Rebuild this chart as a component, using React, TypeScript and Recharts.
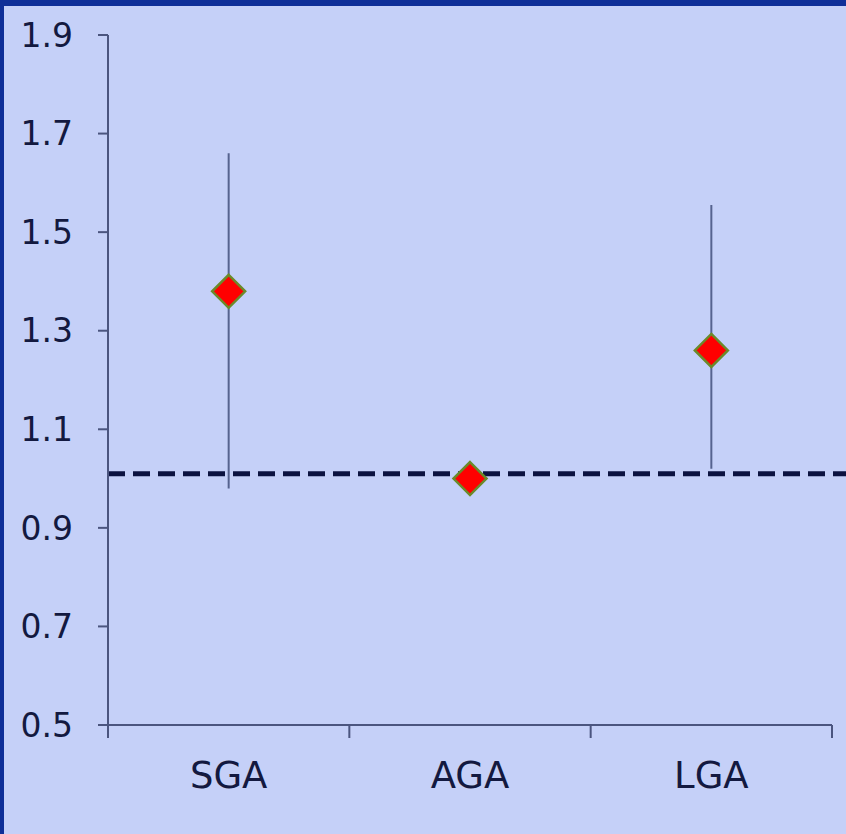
import { ComposedChart, Line, ErrorBar, XAxis, YAxis, ReferenceLine } from 'recharts'

const categories = ['SGA', 'AGA', 'LGA']
const oddsRatios = [1.38, 1.0, 1.26]
const lowerCI = [0.98, 1.0, 1.02]
const upperCI = [1.66, 1.0, 1.555]
const yTicks = [0.5, 0.7, 0.9, 1.1, 1.3, 1.5, 1.7, 1.9]
const referenceValue = 1.01

const data = categories.map((name, i) => ({
  name,
  or: oddsRatios[i],
  ci: [oddsRatios[i] - lowerCI[i], upperCI[i] - oddsRatios[i]],
}))

const textColor = '#131940'
const axisColor = '#4b557f'
const rightMargin = 14

const Diamond = (props: any) => {
  const { cx, cy, index } = props
  if (cx == null || cy == null) return null
  const r = 16.5
  return (
    <polygon
      key={index}
      points={`${cx},${cy - r} ${cx + r},${cy} ${cx},${cy + r} ${cx - r},${cy}`}
      fill="#ff0000"
      stroke="#6b8a2a"
      strokeWidth={2.5}
    />
  )
}

// label in the middle of the band, tick marks on the band edges
const CategoryTick = (props: any) => {
  const { x, y, payload, index } = props
  const half = payload.offset ?? 0
  const axisY = y - 37
  const mark = (px: number) => (
    <line x1={px} x2={px} y1={axisY} y2={axisY + 13} stroke={axisColor} strokeWidth={2} />
  )
  return (
    <g>
      {mark(x - half)}
      {index === categories.length - 1 && mark(x + half)}
      <text
        x={x}
        y={y}
        dy="0.71em"
        textAnchor="middle"
        fill={textColor}
        fontSize={37}
        fontFamily="DejaVu Sans"
      >
        {payload.value}
      </text>
    </g>
  )
}

// the dashed line runs on past the plot, to the edge of the slide
const DashedRef = (props: any) => {
  const { x1, x2, y1, y2 } = props
  return (
    <line
      x1={x1}
      x2={x2 + rightMargin}
      y1={y1}
      y2={y2}
      stroke="#0b1240"
      strokeWidth={5}
      strokeDasharray="17 8"
    />
  )
}

export default function App() {
  return (
    <div
      style={{
        position: 'absolute',
        left: 0,
        top: 0,
        width: 846,
        height: 834,
        background: '#c5d0f8',
        borderTop: '6px solid #0f2f98',
        borderLeft: '4px solid #0f2f98',
        boxSizing: 'border-box',
      }}
    >
      <div style={{ position: 'absolute', left: -4, top: -6 }}>
        <ComposedChart
          width={846}
          height={834}
          data={data}
          margin={{ top: 35, right: rightMargin, bottom: 49, left: 0 }}
        >
          <XAxis
            dataKey="name"
            type="category"
            scale="band"
            height={60}
            tickLine={false}
            tickSize={13}
            tickMargin={24}
            stroke={axisColor}
            strokeWidth={2}
            interval={0}
            tick={<CategoryTick />}
          />
          <YAxis
            type="number"
            domain={[0.5, 1.9]}
            ticks={yTicks}
            width={108}
            tickSize={10}
            tickMargin={25}
            stroke={axisColor}
            strokeWidth={2}
            tickFormatter={(v: number) => v.toFixed(1)}
            tick={{ fill: textColor, fontSize: 33, fontFamily: 'DejaVu Sans' }}
          />
          <ReferenceLine y={referenceValue} ifOverflow="visible" shape={<DashedRef />} />
          <Line
            dataKey="or"
            stroke="none"
            dot={<Diamond />}
            activeDot={false}
            isAnimationActive={false}
          >
            <ErrorBar
              dataKey="ci"
              width={0}
              stroke="#56638f"
              strokeWidth={2}
              isAnimationActive={false}
            />
          </Line>
        </ComposedChart>
      </div>
    </div>
  )
}
